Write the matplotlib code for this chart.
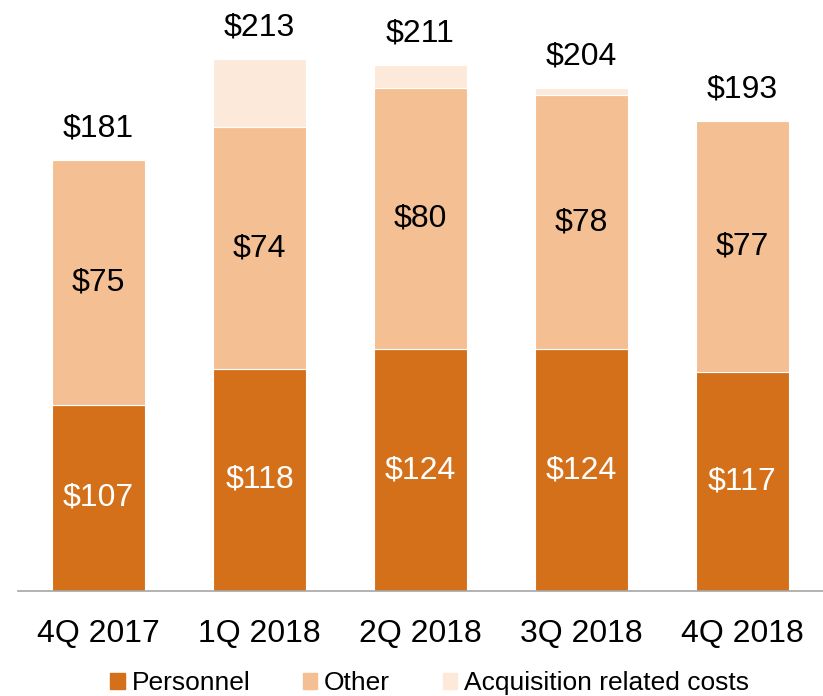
import numpy as np
import matplotlib
matplotlib.use('Agg')
import matplotlib.pyplot as plt
from matplotlib.patches import Patch

plt.rcParams['font.family'] = ['Liberation Sans', 'DejaVu Sans']

quarters = ['4Q 2017', '1Q 2018', '2Q 2018', '3Q 2018', '4Q 2018']
personnel = [107, 118, 124, 124, 117]
other = [75, 74, 80, 78, 77]
acquisition = [0, 21, 7, 2, 0]
totals = ['$181', '$213', '$211', '$204', '$193']

c_pers = '#D5701A'
c_other = '#F3BF93'
c_acq = '#FCE9DA'

fig = plt.figure(figsize=(8.23, 6.96), dpi=100)
ax = fig.add_axes([18 / 823, 1 - 591 / 696, 805 / 823, 591 / 696])

x = np.arange(len(quarters))
w = 0.578
base = 50
pers = np.array(personnel)
oth = np.array(other)
acq = np.array(acquisition)

ax.bar(x, pers - base, w, bottom=base, color=c_pers, edgecolor='white', linewidth=0.8)
ax.bar(x, oth, w, bottom=pers, color=c_other, edgecolor='white', linewidth=0.8)
ax.bar(x, acq, w, bottom=pers + oth, color=c_acq, edgecolor='white', linewidth=0.8)

for i in range(len(quarters)):
    ax.text(x[i], (base + pers[i]) / 2, f'${pers[i]}', ha='center', va='center',
            color='white', fontsize=23)
    ax.text(x[i], pers[i] + oth[i] / 2, f'${oth[i]}', ha='center', va='center',
            color='black', fontsize=23)
    ax.annotate(totals[i], (x[i], pers[i] + oth[i] + acq[i]), xytext=(0, 12),
                textcoords='offset points', ha='center', va='bottom', fontsize=23)

ax.set_xlim(-0.5, 4.5)
ax.set_ylim(base, 231)
ax.set_xticks(x)
ax.set_xticklabels(quarters, fontsize=23)
ax.tick_params(axis='x', length=0, pad=20)
ax.set_yticks([])
for s in ['top', 'right', 'left']:
    ax.spines[s].set_visible(False)
ax.spines['bottom'].set_color('#A6A6A6')
ax.spines['bottom'].set_linewidth(1.2)

handles = [Patch(color=c_pers, label='Personnel'),
           Patch(color=c_other, label='Other'),
           Patch(color=c_acq, label='Acquisition related costs')]
fig.legend(handles=handles, loc='center', bbox_to_anchor=(0.522, 1 - 683 / 696),
           ncol=3, frameon=False, fontsize=19, handlelength=0.55, handleheight=0.55,
           handletextpad=0.25, columnspacing=2.0, borderaxespad=0, borderpad=0)

fig.savefig('out.png', dpi=100)
